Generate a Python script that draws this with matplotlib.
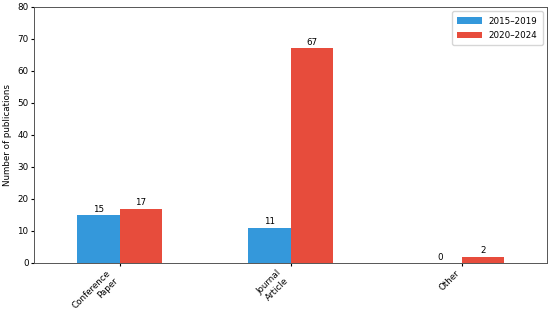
import matplotlib.pyplot as plt
import numpy as np

categories = ['Conference\nPaper', 'Journal\nArticle', 'Other']
period_labels = ['2015–2019', '2020–2024']
counts_2015_2019 = [15, 11, 0]
counts_2020_2024 = [17, 67, 2]

colors = ['#3498db', '#e74c3c']

plt.rcParams['font.size'] = 6.3
plt.rcParams['xtick.major.size'] = 2
plt.rcParams['ytick.major.size'] = 2
plt.rcParams['xtick.major.pad'] = 2
plt.rcParams['ytick.major.pad'] = 2
plt.rcParams['axes.linewidth'] = 0.7
plt.rcParams['axes.edgecolor'] = '#555555'

fig, ax = plt.subplots(figsize=(5.5, 3.13), dpi=100)

x = np.arange(len(categories))
width = 0.25

for i, (vals, label) in enumerate(zip([counts_2015_2019, counts_2020_2024], period_labels)):
    bars = ax.bar(x + (i - 0.5) * width, vals, width, color=colors[i], label=label)
    ax.bar_label(bars, padding=1)

ax.set_xlim(-0.5, len(categories) - 0.5)
ax.set_ylim(0, 80)
ax.set_xticks(x)
ax.set_xticklabels(categories, rotation=45, ha='right')
ax.set_ylabel('Number of publications', labelpad=4)
ax.legend(loc='upper right', handlelength=2.8, borderpad=0.6, labelspacing=0.6)

fig.subplots_adjust(left=0.062, right=0.995, top=0.978, bottom=0.16)
plt.savefig('out.png')
